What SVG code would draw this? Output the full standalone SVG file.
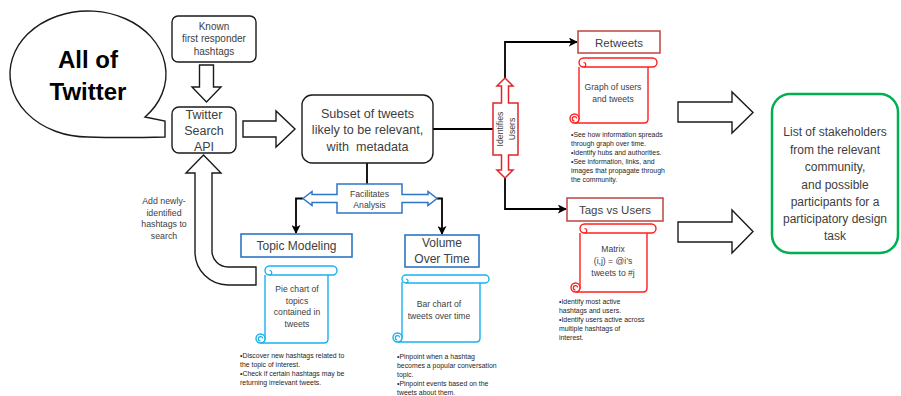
<svg xmlns="http://www.w3.org/2000/svg" width="901" height="396" viewBox="0 0 901 396">
<defs>
<style>
text{font-family:"Liberation Sans",Arial,sans-serif;fill:#404040;text-anchor:middle}
.blk{fill:#fff;stroke:#1a1a1a;stroke-width:1.4}
.rbox{fill:#fff;stroke:#c0504d;stroke-width:1.6}
.bbox{fill:#fff;stroke:#2e75c6;stroke-width:1.6}
.rsc{fill:#fff;stroke:#ff1f1f;stroke-width:1.4}
.bsc{fill:#fff;stroke:#1ab0f0;stroke-width:1.4}
.conn{fill:none;stroke:#000;stroke-width:1.8}
.bul{font-size:6.9px;fill:#1e1e1e;text-anchor:start}
.sct{font-size:8.6px}
</style>
<marker id="ah" viewBox="0 0 10 10" refX="9" refY="5" markerWidth="9" markerHeight="9" markerUnits="userSpaceOnUse" orient="auto"><path d="M0,0 L10,5 L0,10 L2.5,5 Z" fill="#000"/></marker>
</defs>

<g id="connectors">
<path class="conn" d="M433,129 H493"/>
<path class="conn" d="M505,78 V42 H577" marker-end="url(#ah)"/>
<path class="conn" d="M505,178 V209 H566" marker-end="url(#ah)"/>
<path class="conn" d="M367,163 V184"/>
<path class="conn" d="M303,198.5 H296 V233" marker-end="url(#ah)"/>
<path class="conn" d="M437,198.5 H442 V234" marker-end="url(#ah)"/>
<path class="blk" d="M199.5,65 H213.5 V87 H221 L206.5,102 L192,87 H199.5 Z"/>
<path class="blk" d="M243,121 H276 V111 L295,129 L276,147 V137 H243 Z"/>
<path class="blk" d="M256,267 H228 A16,16 0 0 1 212,251 V173 H221 L203.5,155 L186,173 H195 V252 A33,33 0 0 0 228,285 H256 Z"/>
<path class="blk" d="M678,102 H732 V92 L753,112.5 L732,133 V122 H678 Z"/>
<path class="blk" d="M678,222 H732 V210 L753,231.5 L732,253 V242 H678 Z"/>
</g>

<g id="all-of-twitter">
<path d="M145,117 L165,121 L165,137 Q120,138 88,137 A78,63 0 1 1 145,117 Z" fill="#fff" stroke="#1a1a1a" stroke-width="1.4"/>
<text x="88" y="68" font-size="24" font-weight="bold" style="fill:#000">All of</text>
<text x="88" y="100" font-size="24" font-weight="bold" style="fill:#000">Twitter</text>
</g>

<g id="known-hashtags">
<rect x="172" y="16" width="84" height="46" rx="6" class="blk"/>
<text x="214" y="29.5" font-size="10">Known</text>
<text x="214" y="41.5" font-size="10">first responder</text>
<text x="214" y="54.5" font-size="10">hashtags</text>
</g>

<g id="twitter-search-api">
<rect x="172" y="107" width="64" height="46" rx="7" class="blk"/>
<text x="204" y="118.5" font-size="12.5">Twitter</text>
<text x="204" y="134.5" font-size="12.5">Search</text>
<text x="204" y="150.5" font-size="12.5">API</text>
</g>

<g id="feedback-label">
<text x="164" y="204" font-size="8.8">Add newly-</text>
<text x="164" y="215.5" font-size="8.8">identified</text>
<text x="164" y="227" font-size="8.8">hashtags to</text>
<text x="164" y="238.5" font-size="8.8">search</text>
</g>

<g id="subset">
<rect x="302" y="95" width="131" height="68" rx="10" class="blk"/>
<text x="367.5" y="117.5" font-size="12.6">Subset of tweets</text>
<text x="367.5" y="134" font-size="12.6">likely to be relevant,</text>
<text x="367.5" y="150.5" font-size="12.6" style="white-space:pre">with  metadata</text>
</g>

<g id="identifies-users">
<path d="M505,78 L513,86 L508.5,86 L508.5,103 L518,103 L518,155 L508.5,155 L508.5,170 L513,170 L505,178 L497,170 L501.5,170 L501.5,155 L493,155 L493,103 L501.5,103 L501.5,86 L497,86 Z" fill="#fff" stroke="#e0262c" stroke-width="1.5"/>
<text transform="translate(503,129) rotate(-90)" font-size="8.7">Identifies</text>
<text transform="translate(515,129) rotate(-90)" font-size="8.7">Users</text>
</g>

<g id="facilitates-analysis">
<path d="M303,198.5 L312,191.5 L312,194.5 L337,194.5 L337,184 L402,184 L402,194.5 L428,194.5 L428,191.5 L437,198.5 L428,205.5 L428,202.5 L402,202.5 L402,213 L337,213 L337,202.5 L312,202.5 L312,205.5 Z" fill="#fff" stroke="#2e75c6" stroke-width="1.5"/>
<text x="369.5" y="197" font-size="8.7">Facilitates</text>
<text x="369.5" y="208" font-size="8.7">Analysis</text>
</g>

<g id="retweets">
<rect x="578" y="31" width="82" height="22" class="rbox"/>
<text x="619" y="46.5" font-size="11.5">Retweets</text>
</g>
<g id="retweets-scroll">
<path class="rsc" d="M579,67 V118.5 A4.5,4.5 0 0 1 574.5,123 H644 Q648,123 648,119 V67"/>
<circle cx="574.5" cy="118.5" r="4.5" class="rsc"/>
<path d="M574.5,121 a2.2,2.2 0 1 1 2.2,-2.5" fill="none" stroke="#ff1f1f" stroke-width="1.2"/>
<rect x="579" y="58" width="78" height="9" rx="4.5" class="rsc"/>
<path d="M583.5,62.5 a2.2,2.2 0 1 1 0,4.5" fill="none" stroke="#ff1f1f" stroke-width="1.2"/>
<text x="613" y="90" class="sct">Graph of users</text>
<text x="613" y="102" class="sct">and tweets</text>
<text x="571" y="136.5" class="bul">•See how information spreads</text>
<text x="571" y="145.5" class="bul">through graph over time.</text>
<text x="571" y="154.5" class="bul">•Identify hubs and authorities.</text>
<text x="571" y="163.5" class="bul">•See information, links, and</text>
<text x="571" y="172.5" class="bul">images that propagate through</text>
<text x="571" y="181.5" class="bul">the community.</text>
</g>

<g id="tags-vs-users">
<rect x="567" y="198" width="96" height="23" class="rbox"/>
<text x="615" y="214" font-size="11.5">Tags vs Users</text>
</g>
<g id="tags-scroll">
<path class="rsc" d="M580,233 V287.5 A4.5,4.5 0 0 1 575.5,292 H643 Q647,292 647,288 V233"/>
<circle cx="575.5" cy="287.5" r="4.5" class="rsc"/>
<path d="M575.5,290 a2.2,2.2 0 1 1 2.2,-2.5" fill="none" stroke="#ff1f1f" stroke-width="1.2"/>
<rect x="580" y="224" width="76" height="9" rx="4.5" class="rsc"/>
<path d="M584.5,228.5 a2.2,2.2 0 1 1 0,4.5" fill="none" stroke="#ff1f1f" stroke-width="1.2"/>
<text x="613" y="252" class="sct">Matrix</text>
<text x="613" y="264" class="sct">(i,j) = @i’s</text>
<text x="613" y="275.5" class="sct">tweets to #j</text>
<text x="559" y="303.5" class="bul">•Identify most active</text>
<text x="559" y="312.5" class="bul">hashtags and users.</text>
<text x="559" y="321.5" class="bul">•Identify users active across</text>
<text x="559" y="330.5" class="bul">multiple hashtags of</text>
<text x="559" y="339.5" class="bul">interest.</text>
</g>

<g id="topic-modeling">
<rect x="241" y="234" width="111" height="23" class="bbox"/>
<text x="296.5" y="250" font-size="12">Topic Modeling</text>
</g>
<g id="topic-scroll">
<path class="bsc" d="M265,275 V338.5 A4.5,4.5 0 0 1 260.5,343 H324 Q328,343 328,339 V275"/>
<circle cx="260.5" cy="338.5" r="4.5" class="bsc"/>
<path d="M260.5,341 a2.2,2.2 0 1 1 2.2,-2.5" fill="none" stroke="#1ab0f0" stroke-width="1.2"/>
<rect x="265" y="266" width="72" height="9" rx="4.5" class="bsc"/>
<path d="M269.5,270.5 a2.2,2.2 0 1 1 0,4.5" fill="none" stroke="#1ab0f0" stroke-width="1.2"/>
<text x="297" y="292" class="sct">Pie chart of</text>
<text x="297" y="304" class="sct">topics</text>
<text x="297" y="315" class="sct">contained in</text>
<text x="297" y="326.5" class="sct">tweets</text>
<text x="240" y="358" class="bul">•Discover new hashtags related to</text>
<text x="240" y="367" class="bul">the topic of interest.</text>
<text x="240" y="376" class="bul">•Check if certain hashtags may be</text>
<text x="240" y="385" class="bul">returning irrelevant tweets.</text>
</g>

<g id="volume-over-time">
<rect x="405" y="235" width="74" height="32" class="bbox"/>
<text x="442" y="247" font-size="12">Volume</text>
<text x="442" y="263" font-size="12">Over Time</text>
</g>
<g id="volume-scroll">
<path class="bsc" d="M402,282 V337.5 A4.5,4.5 0 0 1 397.5,342 H476 Q480,342 480,338 V282"/>
<circle cx="397.5" cy="337.5" r="4.5" class="bsc"/>
<path d="M397.5,340 a2.2,2.2 0 1 1 2.2,-2.5" fill="none" stroke="#1ab0f0" stroke-width="1.2"/>
<rect x="402" y="275" width="87" height="8" rx="4" class="bsc"/>
<path d="M406,279 a2,2 0 1 1 0,4" fill="none" stroke="#1ab0f0" stroke-width="1.2"/>
<text x="439" y="307" class="sct">Bar chart of</text>
<text x="439" y="319" class="sct">tweets over time</text>
<text x="397" y="359" class="bul">•Pinpoint when a hashtag</text>
<text x="397" y="368" class="bul">becomes a popular conversation</text>
<text x="397" y="377" class="bul">topic.</text>
<text x="397" y="386" class="bul">•Pinpoint events based on the</text>
<text x="397" y="395" class="bul">tweets about them.</text>
</g>

<g id="stakeholders">
<rect x="772" y="94" width="126" height="159" rx="18" fill="#fff" stroke="#00b050" stroke-width="2.5"/>
<text x="835" y="136" font-size="12">List of stakeholders</text>
<text x="835" y="153.5" font-size="12">from the relevant</text>
<text x="835" y="171" font-size="12">community,</text>
<text x="835" y="188.5" font-size="12">and possible</text>
<text x="835" y="206" font-size="12">participants for a</text>
<text x="835" y="223" font-size="12">participatory design</text>
<text x="835" y="239.5" font-size="12">task</text>
</g>
</svg>
